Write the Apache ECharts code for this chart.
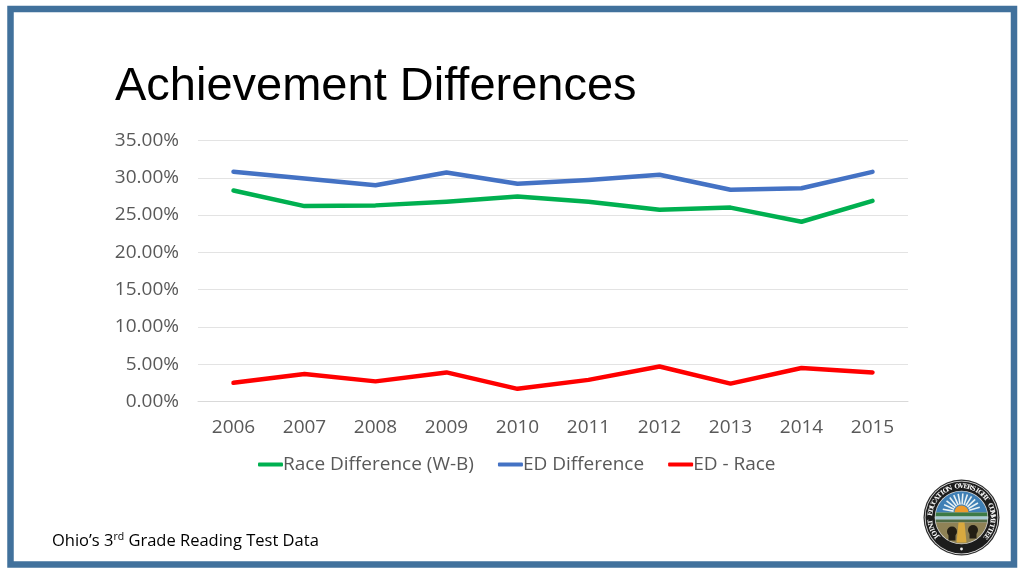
<!DOCTYPE html>
<html><head><meta charset="utf-8">
<style>html,body{margin:0;padding:0;background:#fff}#c{width:1024px;height:576px}</style>
<script src="https://cdn.jsdelivr.net/npm/echarts@6/dist/echarts.min.js"></script>
</head><body><div id="c"></div>
<script>
const years = ['2006','2007','2008','2009','2010','2011','2012','2013','2014','2015'];
const raceDiff = [28.3,26.2,26.3,26.8,27.5,26.8,25.7,26.0,24.1,26.9];
const edDiff = [30.8,29.9,29.0,30.7,29.2,29.7,30.4,28.4,28.6,30.8];
const edRace = [2.5,3.7,2.7,3.9,1.7,2.9,4.7,2.4,4.5,3.9];
const sealText = 'JOINT EDUCATION OVERSIGHT COMMITTEE';
const cx = 961.5, cy = 517.5, ff = '"Open Sans", sans-serif';
const R = 26;

function band(y0, y1, color) {
  const pts = [];
  const a0 = Math.asin(y0 / R), a1 = Math.asin(y1 / R);
  for (let i = 0; i <= 16; i++) { const a = a0 + (a1 - a0) * i / 16; pts.push([cx + R * Math.cos(a), cy + R * Math.sin(a)]); }
  for (let i = 16; i >= 0; i--) { const a = a0 + (a1 - a0) * i / 16; pts.push([cx - R * Math.cos(a), cy + R * Math.sin(a)]); }
  return {type:'polygon',shape:{points:pts},style:{fill:color}};
}
const seal = [
 {type:'circle',shape:{cx,cy,r:38},style:{fill:'#2b2b2b'}},
 {type:'circle',shape:{cx,cy,r:36.8},style:{fill:'#e4e4e4'}},
 {type:'circle',shape:{cx,cy,r:36},style:{fill:'#1c1c1c'}},
 {type:'circle',shape:{cx,cy,r:R+0.8},style:{fill:'#d9d9d9'}},
 band(-25.9,-5,'#3f7fb5')
];
const sx = cx, sy = cy - 5;
for (let d = -80; d <= 80; d += 14) {
  const a = d * Math.PI / 180;
  const L = 19;
  seal.push({type:'line',shape:{x1:sx+8*Math.sin(a),y1:sy-8*Math.cos(a),x2:sx+L*Math.sin(a),y2:sy-L*Math.cos(a)},
    style:{stroke:'#e9f2f5',lineWidth:1.6}});
}
seal.push(
 {type:'sector',shape:{cx:sx,cy:sy,r0:0,r:7,startAngle:Math.PI,endAngle:2*Math.PI},style:{fill:'#ee9a2c'}},
 band(-5,-1,'#3d7a45'),
 band(-1,2,'#a9cbd6'),
 band(2,5,'#4f6a44'),
 band(5,25.9,'#8f8256'),
 {type:'polygon',shape:{points:[[cx-3,cy+5],[cx+3,cy+5],[cx+5,cy+25],[cx-5,cy+25]]},style:{fill:'#d8a93f'}},
 {type:'circle',shape:{cx:cx-9.5,cy:cy+14,r:5},style:{fill:'#231e14'}},
 {type:'rect',shape:{x:cx-13,y:cy+16,width:7,height:7},style:{fill:'#231e14'}},
 {type:'circle',shape:{cx:cx+11.5,cy:cy+12.5,r:5},style:{fill:'#231e14'}},
 {type:'rect',shape:{x:cx+8,y:cy+14,width:7,height:7},style:{fill:'#231e14'}},
 {type:'circle',shape:{cx,cy:cy+31.5,r:1.4},style:{fill:'#eee'}}
);
const n = sealText.length;
for (let i = 0; i < n; i++) {
  const deg = -128 + i * (256 / (n - 1));
  const a = deg * Math.PI / 180;
  seal.push({type:'text',x:cx + 31*Math.sin(a),y:cy - 31*Math.cos(a),rotation:-a,
    style:{text:sealText[i],fill:'#f2f2f2',font:'bold 6.5px "DejaVu Serif", serif',align:'center',verticalAlign:'middle'}});
}

const chart = echarts.init(document.getElementById('c'),null,{renderer:'canvas'});
chart.setOption({
  animation:false,
  backgroundColor:'#fff',
  title:{text:'Achievement Differences',left:110,top:59,textStyle:{fontFamily:'"Liberation Sans"',fontSize:47,fontWeight:'normal',color:'#000'}},
  grid:{left:198,right:116,top:140.5,bottom:174.5,containLabel:false},
  legend:{
    top:450,left:253,itemWidth:25,itemHeight:4,itemGap:24,icon:'roundRect',
    textStyle:{fontFamily:ff,fontSize:19,color:'#595959',padding:[0,0,0,-5]},
    data:['Race Difference (W-B)','ED Difference','ED - Race']
  },
  xAxis:{type:'category',data:years,axisTick:{show:false},
    axisLine:{lineStyle:{color:'#d9d9d9',width:1}},
    axisLabel:{fontFamily:ff,fontSize:19,color:'#595959',margin:17}},
  yAxis:{type:'value',min:0,max:35,interval:5,
    axisLabel:{fontFamily:ff,fontSize:19,color:'#595959',margin:19,padding:[3,0,0,0],formatter:v=>v.toFixed(2)+'%'},
    axisLine:{show:false},axisTick:{show:false},
    splitLine:{lineStyle:{color:'#e3e3e3',width:1}}},
  series:[
    {name:'Race Difference (W-B)',type:'line',data:raceDiff,symbol:'none',lineStyle:{width:4.5,color:'#00b050',cap:'round',join:'round'},itemStyle:{color:'#00b050'}},
    {name:'ED Difference',type:'line',data:edDiff,symbol:'none',lineStyle:{width:4.5,color:'#4472c4',cap:'round',join:'round'},itemStyle:{color:'#4472c4'}},
    {name:'ED - Race',type:'line',data:edRace,symbol:'none',lineStyle:{width:4.5,color:'#ff0000',cap:'round',join:'round'},itemStyle:{color:'#ff0000'}}
  ],
  graphic:[
    {type:'rect',shape:{x:10.5,y:9,width:1003.5,height:555.5},style:{fill:'none',stroke:'#41719c',lineWidth:6.5},z:10},
    {type:'text',x:52,y:541,z:10,style:{
      rich:{n:{font:'16.5px '+ff,fill:'#000'},s:{font:'10.5px '+ff,fill:'#000',padding:[0,0,7,0]}},
      text:'{n|Ohio’s 3}{s|rd}{n| Grade Reading Test Data}',verticalAlign:'middle',fill:'#000'}},
    {type:'group',z:10,children:seal}
  ]
});
</script></body></html>
